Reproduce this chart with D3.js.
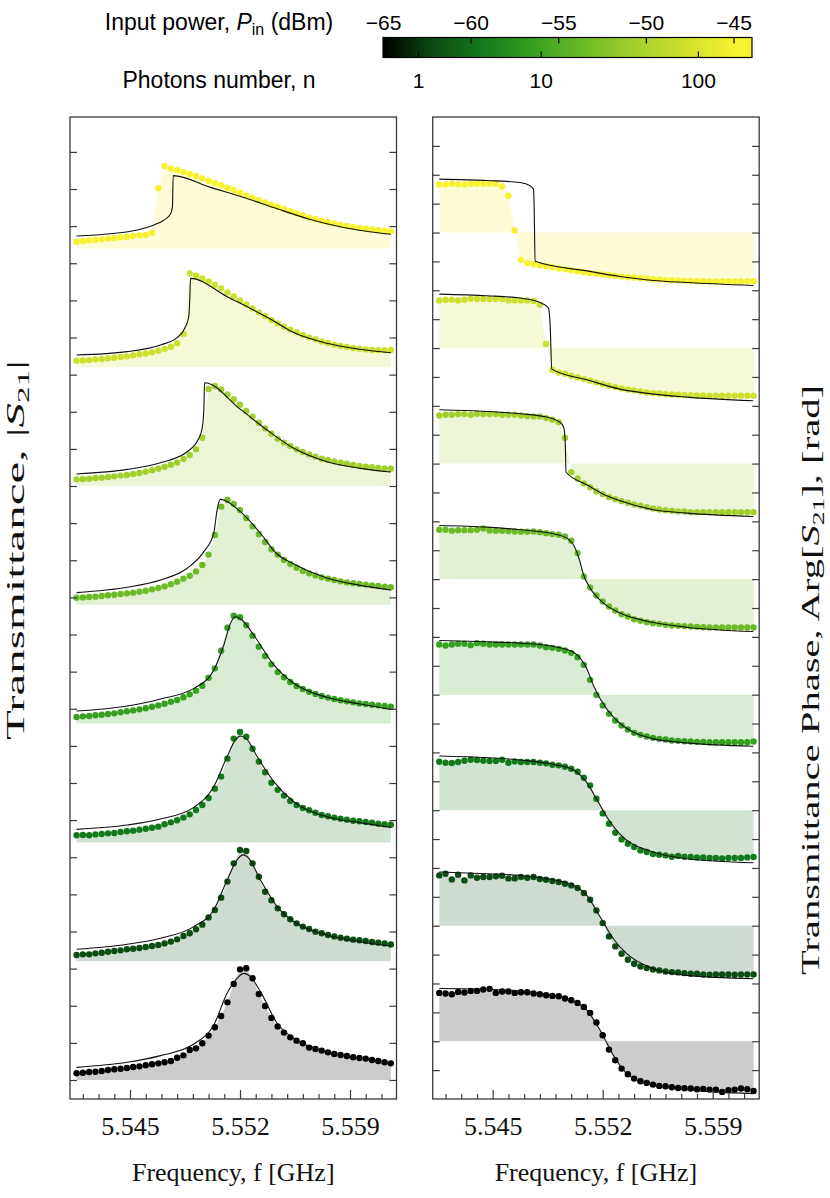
<!DOCTYPE html>
<html><head><meta charset="utf-8">
<script src="https://cdn.jsdelivr.net/npm/d3@7"></script>
<style>body{margin:0;background:#fff}svg{display:block}</style>
</head><body>
<svg id="c" width="830" height="1198"></svg>
<script>
// ---------- DATA ----------
const freqs = [5.5416,5.5420,5.5424,5.5428,5.5432,5.5436,5.5440,5.5444,5.5448,5.5452,5.5456,5.5460,5.5464,5.5468,5.5472,5.5476,5.5480,5.5484,5.5488,5.5492,5.5496,5.5500,5.5504,5.5508,5.5512,5.5516,5.5520,5.5524,5.5528,5.5532,5.5536,5.5540,5.5544,5.5548,5.5552,5.5556,5.5560,5.5564,5.5568,5.5572,5.5576,5.5580,5.5584,5.5588,5.5592,5.5596,5.5600,5.5604,5.5608,5.5612,5.5616];
// input power of each trace (bottom -> top), dBm
const powers = [-65,-62.14,-59.29,-56.43,-53.57,-50.71,-47.86,-45];
const powerTicks = [-65,-60,-55,-50,-45];
const photonTicks = [1,10,100];
const photonTickPower = [-63.0,-56.0,-47.03];
const freqMajor = [5.545,5.552,5.559];
const freqMinor = [5.542,5.543,5.544,5.546,5.547,5.548,5.549,5.550,5.551,5.553,5.554,5.555,5.556,5.557,5.558,5.560,5.561];

// |S21| measured points (relative to each trace's offset)
const mag0 = [0.045,0.049,0.054,0.056,0.061,0.067,0.072,0.076,0.081,0.088,0.092,0.099,0.106,0.112,0.119,0.128,0.150,0.166,0.202,0.213,0.247,0.299,0.355,0.431,0.523,0.646,0.745,0.752,0.685,0.579,0.498,0.418,0.361,0.319,0.287,0.265,0.247,0.218,0.209,0.198,0.186,0.175,0.168,0.162,0.153,0.148,0.144,0.135,0.128,0.119,0.112];
const mag1 = [0.042,0.046,0.046,0.053,0.057,0.064,0.069,0.073,0.080,0.084,0.089,0.096,0.102,0.109,0.120,0.132,0.147,0.170,0.188,0.215,0.246,0.295,0.345,0.428,0.536,0.659,0.749,0.742,0.659,0.569,0.468,0.410,0.356,0.316,0.282,0.255,0.233,0.217,0.199,0.188,0.176,0.167,0.158,0.152,0.145,0.141,0.136,0.129,0.125,0.120,0.112];
const mag2 = [0.048,0.050,0.048,0.054,0.057,0.061,0.063,0.070,0.075,0.079,0.086,0.092,0.099,0.106,0.122,0.135,0.149,0.167,0.189,0.218,0.252,0.299,0.362,0.443,0.564,0.699,0.743,0.712,0.631,0.544,0.472,0.402,0.355,0.315,0.279,0.252,0.232,0.216,0.200,0.185,0.176,0.167,0.160,0.153,0.146,0.142,0.137,0.133,0.126,0.122,0.119];
const mag3 = [0.044,0.049,0.051,0.056,0.060,0.065,0.069,0.076,0.083,0.089,0.096,0.103,0.114,0.123,0.134,0.148,0.159,0.177,0.197,0.222,0.255,0.309,0.372,0.491,0.646,0.727,0.716,0.662,0.592,0.518,0.455,0.399,0.347,0.312,0.280,0.253,0.233,0.215,0.199,0.186,0.175,0.166,0.157,0.150,0.143,0.136,0.132,0.127,0.123,0.119,0.114];
const mag4 = [0.048,0.050,0.053,0.055,0.059,0.064,0.068,0.073,0.077,0.082,0.088,0.095,0.104,0.113,0.124,0.138,0.156,0.176,0.196,0.225,0.268,0.338,0.470,0.661,0.706,0.679,0.638,0.585,0.528,0.475,0.423,0.374,0.338,0.302,0.275,0.250,0.228,0.212,0.198,0.185,0.176,0.167,0.158,0.151,0.145,0.140,0.136,0.131,0.127,0.122,0.118];
const mag5 = [0.045,0.047,0.049,0.054,0.056,0.061,0.065,0.070,0.074,0.081,0.088,0.097,0.106,0.117,0.130,0.144,0.159,0.182,0.209,0.247,0.325,0.653,0.673,0.651,0.617,0.584,0.548,0.505,0.467,0.426,0.388,0.352,0.319,0.292,0.269,0.247,0.229,0.213,0.198,0.184,0.175,0.166,0.157,0.150,0.141,0.135,0.130,0.126,0.121,0.119,0.117];
const mag6 = [0.044,0.046,0.048,0.053,0.055,0.060,0.064,0.069,0.073,0.080,0.087,0.093,0.100,0.111,0.123,0.138,0.161,0.224,0.632,0.616,0.598,0.578,0.556,0.531,0.504,0.477,0.450,0.423,0.396,0.369,0.345,0.318,0.295,0.273,0.253,0.235,0.217,0.201,0.188,0.174,0.163,0.152,0.143,0.136,0.129,0.125,0.120,0.116,0.114,0.114,0.116];
const mag7 = [0.045,0.050,0.054,0.057,0.061,0.066,0.070,0.075,0.079,0.084,0.088,0.090,0.106,0.405,0.555,0.539,0.528,0.514,0.501,0.488,0.472,0.456,0.440,0.425,0.409,0.393,0.375,0.357,0.342,0.326,0.310,0.294,0.281,0.265,0.250,0.236,0.223,0.209,0.198,0.187,0.176,0.167,0.158,0.151,0.144,0.137,0.133,0.128,0.124,0.119,0.115];

// |S21| model fits: [frequency, value]
const magFit0 = [[5.5416,0.085],[5.54482,0.119],[5.54694,0.164],[5.54906,0.242],[5.55033,0.370],[5.55118,0.584],[5.55181,0.684],[5.55224,0.718],[5.55266,0.696],[5.5533,0.595],[5.55436,0.382],[5.55542,0.281],[5.55753,0.191],[5.55965,0.146],[5.5616,0.106]];
const magFit1 = [[5.5416,0.080],[5.54482,0.114],[5.54694,0.155],[5.54906,0.233],[5.55033,0.345],[5.55118,0.547],[5.55181,0.682],[5.5522,0.716],[5.55256,0.693],[5.5533,0.547],[5.55436,0.368],[5.55542,0.267],[5.55753,0.176],[5.55965,0.131],[5.5616,0.102]];
const magFit2 = [[5.5416,0.088],[5.54482,0.117],[5.54694,0.157],[5.54906,0.236],[5.55033,0.375],[5.55118,0.578],[5.55171,0.690],[5.55203,0.717],[5.55245,0.694],[5.55309,0.578],[5.55415,0.409],[5.55542,0.274],[5.55753,0.173],[5.55965,0.133],[5.5616,0.101]];
const magFit3 = [[5.5416,0.085],[5.54482,0.119],[5.54694,0.166],[5.54906,0.237],[5.55033,0.36],[5.55097,0.529],[5.55139,0.675],[5.55171,0.720],[5.55213,0.698],[5.55287,0.597],[5.55415,0.396],[5.55542,0.272],[5.55753,0.177],[5.55965,0.132],[5.5616,0.096]];
const magFit4 = [[5.5416,0.082],[5.54482,0.118],[5.54694,0.167],[5.54864,0.246],[5.5497,0.358],[5.55033,0.481],[5.55054,0.638],[5.55075,0.710],[5.55107,0.701],[5.55203,0.627],[5.5533,0.481],[5.55436,0.342],[5.55542,0.275],[5.55753,0.180],[5.55965,0.131],[5.5616,0.100]];
const magFit5 = [[5.5416,0.081],[5.54482,0.112],[5.54694,0.157],[5.54864,0.231],[5.54938,0.321],[5.54959,0.388],[5.5497,0.512],[5.54974,0.695],[5.55203,0.516],[5.55372,0.377],[5.55542,0.254],[5.55753,0.164],[5.55965,0.119],[5.5616,0.094]];
const magFit6 = [[5.5416,0.082],[5.54482,0.105],[5.54694,0.15],[5.548,0.199],[5.54853,0.272],[5.54874,0.34],[5.54881,0.475],[5.54885,0.598],[5.55118,0.475],[5.55393,0.325],[5.55542,0.233],[5.55753,0.161],[5.55965,0.121],[5.5616,0.097]];
const magFit7 = [[5.5416,0.0835],[5.54376,0.099],[5.54546,0.124],[5.54652,0.158],[5.54715,0.19],[5.54758,0.232],[5.5477,0.28],[5.54775,0.49],[5.55012,0.411],[5.55224,0.343],[5.55436,0.267],[5.55648,0.195],[5.55859,0.141],[5.5616,0.095]];

// Arg[S21] measured points (rad, relative to each trace's offset)
const phase0 = [1.674,1.651,1.628,1.709,1.686,1.743,1.743,1.790,1.813,1.674,1.720,1.720,1.674,1.697,1.697,1.651,1.628,1.593,1.570,1.559,1.478,1.420,1.328,1.189,0.981,0.647,0.208,-0.289,-0.658,-0.947,-1.143,-1.293,-1.386,-1.443,-1.501,-1.547,-1.559,-1.593,-1.617,-1.628,-1.639,-1.663,-1.651,-1.674,-1.674,-1.755,-1.697,-1.674,-1.639,-1.663,-1.720];
const phase1 = [1.742,1.800,1.604,1.765,1.569,1.742,1.662,1.685,1.685,1.708,1.731,1.638,1.638,1.685,1.662,1.685,1.615,1.592,1.546,1.511,1.454,1.396,1.303,1.130,0.900,0.530,0.091,-0.371,-0.717,-0.971,-1.179,-1.317,-1.410,-1.467,-1.514,-1.548,-1.583,-1.606,-1.617,-1.641,-1.664,-1.664,-1.687,-1.698,-1.687,-1.687,-1.687,-1.698,-1.687,-1.687,-1.687];
const phase2 = [1.679,1.644,1.633,1.667,1.713,1.748,1.737,1.713,1.702,1.702,1.748,1.644,1.690,1.667,1.667,1.667,1.644,1.621,1.575,1.552,1.506,1.436,1.333,1.125,0.859,0.397,-0.111,-0.469,-0.780,-1.011,-1.161,-1.277,-1.392,-1.450,-1.520,-1.542,-1.566,-1.612,-1.589,-1.612,-1.623,-1.635,-1.635,-1.658,-1.658,-1.670,-1.658,-1.658,-1.658,-1.635,-1.623];
const phase3 = [1.737,1.702,1.737,1.760,1.760,1.713,1.783,1.760,1.737,1.737,1.737,1.737,1.737,1.737,1.737,1.737,1.702,1.644,1.621,1.586,1.529,1.448,1.298,1.032,0.513,-0.007,-0.376,-0.665,-0.896,-1.069,-1.208,-1.323,-1.392,-1.450,-1.496,-1.531,-1.554,-1.589,-1.600,-1.612,-1.623,-1.635,-1.635,-1.646,-1.646,-1.646,-1.646,-1.646,-1.646,-1.646,-1.623];
const phase4 = [1.708,1.708,1.673,1.696,1.696,1.696,1.708,1.754,1.685,1.673,1.673,1.662,1.650,1.638,1.638,1.650,1.627,1.592,1.558,1.534,1.477,1.327,0.900,0.091,-0.290,-0.567,-0.775,-0.948,-1.087,-1.213,-1.294,-1.387,-1.444,-1.491,-1.525,-1.548,-1.583,-1.606,-1.618,-1.629,-1.641,-1.652,-1.664,-1.675,-1.675,-1.675,-1.675,-1.675,-1.675,-1.675,-1.675];
const phase5 = [1.667,1.690,1.690,1.713,1.713,1.690,1.725,1.713,1.713,1.713,1.690,1.690,1.690,1.667,1.644,1.633,1.633,1.575,1.517,1.436,0.894,-0.296,-0.515,-0.690,-0.820,-0.965,-1.058,-1.162,-1.231,-1.300,-1.358,-1.416,-1.462,-1.508,-1.554,-1.589,-1.612,-1.635,-1.658,-1.658,-1.681,-1.681,-1.681,-1.681,-1.681,-1.681,-1.681,-1.681,-1.681,-1.681,-1.681];
const phase6 = [1.650,1.673,1.673,1.650,1.673,1.708,1.696,1.696,1.696,1.696,1.696,1.650,1.650,1.650,1.650,1.627,1.500,0.139,-0.752,-0.844,-0.890,-0.959,-1.017,-1.075,-1.133,-1.190,-1.248,-1.306,-1.352,-1.398,-1.433,-1.468,-1.502,-1.537,-1.560,-1.571,-1.594,-1.606,-1.618,-1.629,-1.629,-1.641,-1.641,-1.652,-1.652,-1.652,-1.652,-1.652,-1.652,-1.652,-1.652];
const phase7 = [1.664,1.664,1.687,1.664,1.664,1.687,1.687,1.687,1.687,1.687,1.594,1.271,0.070,-0.946,-1.061,-1.096,-1.130,-1.165,-1.200,-1.246,-1.269,-1.304,-1.338,-1.373,-1.407,-1.431,-1.454,-1.477,-1.500,-1.523,-1.546,-1.558,-1.581,-1.592,-1.615,-1.627,-1.638,-1.650,-1.662,-1.673,-1.673,-1.685,-1.685,-1.696,-1.696,-1.696,-1.696,-1.696,-1.696,-1.685,-1.685];

// Arg[S21] model fits: [frequency, rad]
const phaseFit0 = [[5.5416,1.824],[5.54463,1.801],[5.54675,1.743],[5.54887,1.593],[5.55014,1.397],[5.55099,1.074],[5.55184,0.381],[5.55268,-0.485],[5.55353,-1.120],[5.55523,-1.524],[5.55734,-1.674],[5.56158,-1.813]];
const phaseFit1 = [[5.5416,1.858],[5.54463,1.800],[5.54675,1.742],[5.54887,1.592],[5.55014,1.396],[5.55099,1.050],[5.55184,0.300],[5.55268,-0.450],[5.55353,-0.970],[5.55523,-1.490],[5.55734,-1.721],[5.56158,-1.837]];
const phaseFit2 = [[5.5416,1.875],[5.54463,1.818],[5.54675,1.737],[5.54887,1.587],[5.55014,1.391],[5.55099,0.952],[5.55162,0.375],[5.55226,-0.226],[5.55311,-0.838],[5.55523,-1.450],[5.55734,-1.681],[5.56158,-1.820]];
const phaseFit3 = [[5.5416,1.875],[5.54463,1.829],[5.54675,1.783],[5.54887,1.667],[5.55014,1.471],[5.55099,0.894],[5.55141,0.317],[5.55184,-0.145],[5.55268,-0.780],[5.55523,-1.531],[5.55734,-1.670],[5.56158,-1.785]];
const phaseFit4 = [[5.5416,1.858],[5.54463,1.800],[5.54675,1.708],[5.54887,1.569],[5.54972,1.419],[5.55025,1.073],[5.55052,0.670],[5.55078,0.150],[5.5512,-0.312],[5.55205,-0.831],[5.55311,-1.177],[5.55523,-1.502],[5.55734,-1.664],[5.56158,-1.814]];
const phaseFit5 = [[5.5416,1.864],[5.54463,1.806],[5.54675,1.725],[5.54844,1.610],[5.54919,1.46],[5.5495,1.286],[5.54961,0.826],[5.54967,-0.30],[5.55099,-0.733],[5.55205,-1.06],[5.55311,-1.29],[5.55523,-1.600],[5.55734,-1.716],[5.56158,-1.832]];
const phaseFit6 = [[5.5416,1.869],[5.54463,1.812],[5.54675,1.731],[5.54802,1.581],[5.54855,1.385],[5.54866,0.75],[5.54876,-0.73],[5.55099,-1.098],[5.55311,-1.421],[5.55523,-1.594],[5.55734,-1.698],[5.56158,-1.825]];
const phaseFit7 = [[5.5416,1.849],[5.54463,1.80],[5.54675,1.73],[5.547385,1.617],[5.5476,1.502],[5.54764,0.79],[5.5477,-0.997],[5.55099,-1.328],[5.55311,-1.523],[5.55523,-1.662],[5.55734,-1.731],[5.56158,-1.835]];

const magDots = [mag0,mag1,mag2,mag3,mag4,mag5,mag6,mag7];
const magFits = [magFit0,magFit1,magFit2,magFit3,magFit4,magFit5,magFit6,magFit7];
const phaseDots = [phase0,phase1,phase2,phase3,phase4,phase5,phase6,phase7];
const phaseFits = [phaseFit0,phaseFit1,phaseFit2,phaseFit3,phaseFit4,phaseFit5,phaseFit6,phaseFit7];

// ---------- STYLE / LAYOUT ----------
const traceColors = ['#000000','#0b4d12','#137a1b','#36a020','#6cbb26','#a2cf2b','#cde02e','#f7f230'];
const SERIF = '"Liberation Serif","Times New Roman",serif';
const SANS = '"Liberation Sans",Arial,sans-serif';
const magOffset = 0.8, phaseOffset = 4;
const plotTop = 117, plotBottom = 1099;
const leftRange = [70, 396.5], rightRange = [432.7, 759.2];
const fDomain = [5.541182, 5.561959];

const svg = d3.select('#c');
const colorOf = d3.scaleLinear().domain(powers).range(traceColors).clamp(true);

const xL = d3.scaleLinear().domain(fDomain).range(leftRange);
const xR = d3.scaleLinear().domain(fDomain).range(rightRange);
const yL = d3.scaleLinear().domain([-0.128, 6.485]).range([plotBottom, plotTop]);
const yR = d3.scaleLinear().domain([-2, 32]).range([plotBottom, plotTop]);

function panel(x, y, dotsArr, fitsArr, offset, yTicks) {
  const g = svg.append('g');
  const [x0, x1] = x.range();
  dotsArr.forEach((vals, k) => {
    const c = colorOf(powers[k]);
    const area = d3.area().x((d,i)=>x(freqs[i])).y0(y(offset*k)).y1(d=>y(offset*k + d));
    g.append('path').attr('d', area(vals)).attr('fill', c).attr('fill-opacity', 0.2);
  });
  dotsArr.forEach((vals, k) => {
    const c = colorOf(powers[k]);
    g.append('g').selectAll('circle').data(vals).join('circle')
      .attr('cx',(d,i)=>x(freqs[i])).attr('cy',d=>y(offset*k + d)).attr('r',3.2).attr('fill',c);
  });
  fitsArr.forEach((pts, k) => {
    const line = d3.line().x(d=>x(d[0])).y(d=>y(offset*k + d[1])).curve(d3.curveMonotoneX);
    g.append('path').attr('d', line(pts)).attr('fill','none').attr('stroke','#111').attr('stroke-width',1.1);
  });
  g.append('rect').attr('x',x0).attr('y',plotTop).attr('width',x1-x0).attr('height',plotBottom-plotTop)
    .attr('fill','none').attr('stroke','#3a3a3a').attr('stroke-width',1.3);
  const la = g.append('g').attr('transform',`translate(${x0},0)`)
    .call(d3.axisLeft(y).tickValues(yTicks).tickSize(-7).tickFormat(''));
  const ra = g.append('g').attr('transform',`translate(${x1},0)`)
    .call(d3.axisRight(y).tickValues(yTicks).tickSize(-7).tickFormat(''));
  const ba = g.append('g').attr('transform',`translate(0,${plotBottom})`)
    .call(d3.axisBottom(x).tickValues(freqMajor).tickSize(-9).tickPadding(17.5).tickFormat(d3.format('.3f')));
  const bm = g.append('g').attr('transform',`translate(0,${plotBottom})`)
    .call(d3.axisBottom(x).tickValues(freqMinor).tickSize(-5).tickFormat(''));
  [la,ra,ba,bm].forEach(a=>{
    a.select('.domain').remove();
    a.selectAll('line').attr('stroke','#3a3a3a').attr('stroke-width',1.2);
  });
  ba.selectAll('text').attr('font-family',SERIF).attr('font-size',26).attr('fill','#111');
  svg.append('text').attr('x',(x0+x1)/2).attr('y',1180.5).attr('text-anchor','middle')
    .attr('font-family',SERIF).attr('font-size',26).attr('fill','#111').text('Frequency, f [GHz]');
}

const magTicks = d3.range(0, 6.26, 0.25);
const phTicks = d3.range(-1, 31.5, 1);
panel(xL, yL, magDots, magFits, magOffset, magTicks);
panel(xR, yR, phaseDots, phaseFits, phaseOffset, phTicks);

const ylab = svg.append('text').attr('transform','translate(24,550) rotate(-90)').attr('text-anchor','middle')
  .attr('font-family',SERIF).attr('font-size',25).attr('fill','#111')
  .attr('textLength',380).attr('lengthAdjust','spacingAndGlyphs');
ylab.append('tspan').text('Transmittance, |');
ylab.append('tspan').attr('font-style','italic').text('S');
ylab.append('tspan').attr('font-size',17).attr('dy',5).text('21');
ylab.append('tspan').attr('dy',-5).text('|');

const yrab = svg.append('text').attr('transform','translate(819,680) rotate(-90)').attr('text-anchor','middle')
  .attr('font-family',SERIF).attr('font-size',25).attr('fill','#111')
  .attr('textLength',590).attr('lengthAdjust','spacingAndGlyphs');
yrab.append('tspan').text('Transmittance Phase, Arg[');
yrab.append('tspan').attr('font-style','italic').text('S');
yrab.append('tspan').attr('font-size',17).attr('dy',5).text('21');
yrab.append('tspan').attr('dy',-5).text('], [rad]');

// ---------- COLORBAR ----------
const cbLeft = 383, cbRight = 752;
const cbX = d3.scaleLinear().domain([-65,-45]).range([383.5, 734]);
const cbDomain = [cbX.invert(cbLeft), cbX.invert(cbRight)];
const defs = svg.append('defs');
const grad = defs.append('linearGradient').attr('id','cbg').attr('x1','0%').attr('x2','100%');
d3.range(0, 1.0001, 0.05).forEach(t=>{
  grad.append('stop').attr('offset', (t*100)+'%').attr('stop-color', colorOf(cbDomain[0] + t*(cbDomain[1]-cbDomain[0])));
});
svg.append('rect').attr('x',cbLeft).attr('y',37.5).attr('width',cbRight-cbLeft).attr('height',20)
  .attr('fill','url(#cbg)').attr('stroke','#000').attr('stroke-width',1.2);
svg.append('g').selectAll('line').data(powerTicks).join('line')
  .attr('x1',d=>cbX(d)).attr('x2',d=>cbX(d)).attr('y1',37.5).attr('y2',43.5).attr('stroke','#000').attr('stroke-width',1.2);
svg.append('g').selectAll('line').data(photonTickPower).join('line')
  .attr('x1',d=>cbX(d)).attr('x2',d=>cbX(d)).attr('y1',57.5).attr('y2',51.5).attr('stroke','#000').attr('stroke-width',1.2);
svg.append('g').selectAll('text').data(powerTicks).join('text')
  .attr('x',d=>cbX(d)).attr('y',30).attr('text-anchor','middle').attr('font-family',SANS).attr('font-size',21)
  .text(d=>'\u2212'+Math.abs(d));
svg.append('g').selectAll('text').data(photonTicks).join('text')
  .attr('x',(d,i)=>cbX(photonTickPower[i])).attr('y',88).attr('text-anchor','middle').attr('font-family',SANS).attr('font-size',21)
  .text(d=>d);
const t1 = svg.append('text').attr('x',219).attr('y',30).attr('text-anchor','middle').attr('font-family',SANS).attr('font-size',23);
t1.append('tspan').text('Input power, ');
t1.append('tspan').attr('font-style','italic').text('P');
t1.append('tspan').attr('font-size',16).attr('dy',5).text('in');
t1.append('tspan').attr('dy',-5).text(' (dBm)');
svg.append('text').attr('x',219).attr('y',88).attr('text-anchor','middle').attr('font-family',SANS).attr('font-size',23)
  .text('Photons number, n');
</script>
</body></html>
